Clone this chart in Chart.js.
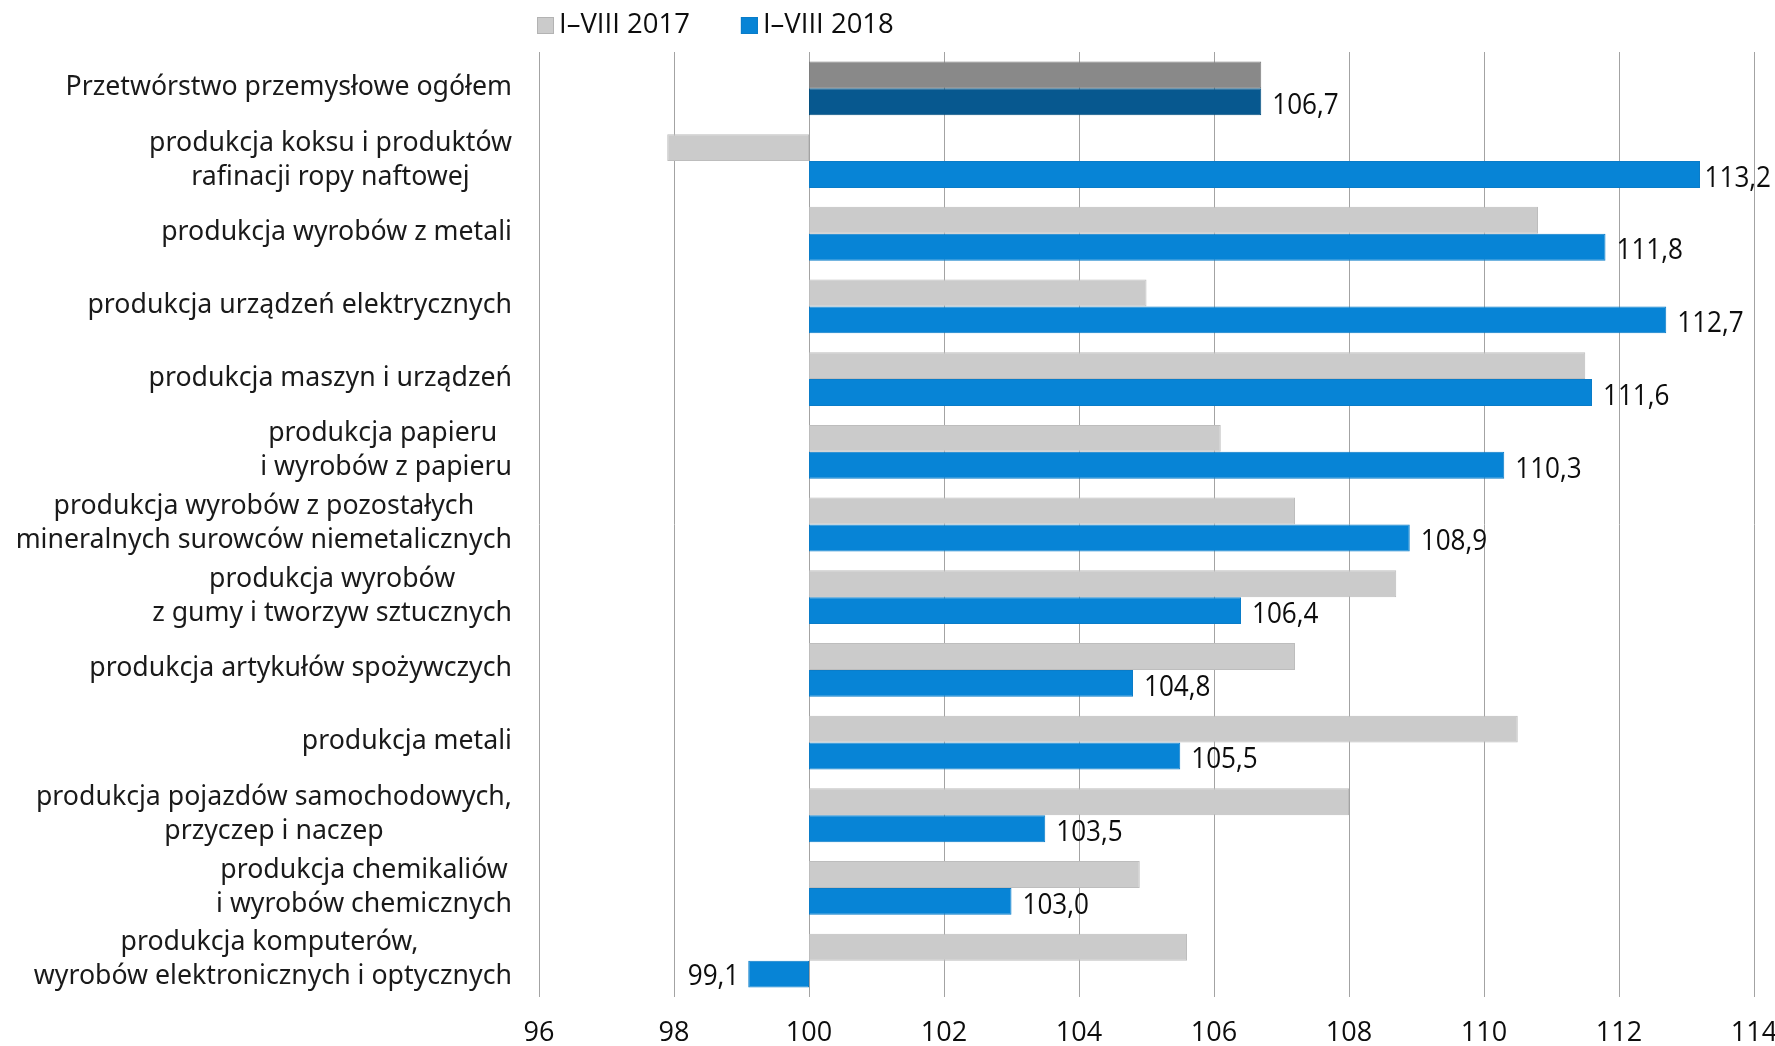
<!DOCTYPE html>
<html>
<head>
<meta charset="utf-8">
<script src="https://cdn.jsdelivr.net/npm/chart.js@4/dist/chart.umd.min.js"></script>
<style>
  html, body { margin: 0; padding: 0; background: #ffffff; }
  #wrap { width: 1775px; height: 1046px; position: relative; }
</style>
</head>
<body>
<div id="wrap"><canvas id="chart" width="1775" height="1046"></canvas></div>
<script>
// Categories (each entry = lines of the axis label)
const categories = [
  ['Przetwórstwo przemysłowe ogółem'],
  ['produkcja koksu i produktów', 'rafinacji ropy naftowej'],
  ['produkcja wyrobów z metali'],
  ['produkcja urządzeń elektrycznych'],
  ['produkcja maszyn i urządzeń'],
  ['produkcja papieru ', 'i wyrobów z papieru'],
  ['produkcja wyrobów z pozostałych', 'mineralnych surowców niemetalicznych'],
  ['produkcja wyrobów', 'z gumy i tworzyw sztucznych'],
  ['produkcja artykułów spożywczych'],
  ['produkcja metali'],
  ['produkcja pojazdów samochodowych,', 'przyczep i naczep'],
  ['produkcja chemikaliów', 'i wyrobów chemicznych'],
  ['produkcja komputerów, ', 'wyrobów elektronicznych i optycznych']
];

const seriesNames = ['I–VIII 2017', 'I–VIII 2018'];

// Index values (previous year = 100)
const values2017 = [106.7, 97.9, 110.8, 105.0, 111.5, 106.1, 107.2, 108.7, 107.2, 110.5, 108.0, 104.9, 105.6];
const values2018 = [106.7, 113.2, 111.8, 112.7, 111.6, 110.3, 108.9, 106.4, 104.8, 105.5, 103.5, 103.0, 99.1];

const baseline = 100;
const xTicks = [96, 98, 100, 102, 104, 106, 108, 110, 112, 114];

const LABEL_FONT = '"Noto Sans", sans-serif';
const NUM_FONT = '"Open Sans", sans-serif';

const colors = {
  gray: '#cbcbcb', grayBorder: '#bdbdbd',
  grayDark: '#898989', grayDarkBorder: '#7e7e7e',
  blue: '#0784d6', blueBorder: '#0a7cc8',
  blueDark: '#07588f', blueDarkBorder: '#06507f'
};

// Floating bars anchored at the baseline
const toRange = arr => arr.map(v => [baseline, v]);

// Category labels: block right-aligned to the axis, lines centred within the block
const categoryLabelPlugin = {
  id: 'categoryLabels',
  afterDraw(chart) {
    const ctx = chart.ctx;
    const yScale = chart.scales.y;
    const right = chart.chartArea.left - 27;
    const lineH = 34;
    ctx.save();
    ctx.font = '26.7px ' + LABEL_FONT;
    ctx.fillStyle = '#1a1a1a';
    ctx.textAlign = 'center';
    ctx.textBaseline = 'middle';
    categories.forEach((lines, i) => {
      const yc = yScale.getPixelForValue(i);
      const w = Math.max(...lines.map(l => ctx.measureText(l).width));
      const cx = right - w / 2;
      const y0 = yc - (lines.length - 1) * lineH / 2 - 1;
      lines.forEach((l, k) => ctx.fillText(l, cx, y0 + k * lineH));
    });
    ctx.restore();
  }
};

// Value labels for the 2018 series (slightly condensed numerals),
// kept inside the canvas when a bar reaches the right edge
const valueLabelPlugin = {
  id: 'valueLabels',
  afterDatasetsDraw(chart) {
    const ctx = chart.ctx;
    const xScale = chart.scales.x;
    const meta = chart.getDatasetMeta(1);
    const squeeze = 0.9;
    meta.data.forEach((bar, i) => {
      const v = values2018[i];
      const px = xScale.getPixelForValue(v);
      const txt = v.toFixed(1).replace('.', ',');
      ctx.save();
      ctx.font = '29px ' + NUM_FONT;
      ctx.fillStyle = '#0d0d0d';
      ctx.textBaseline = 'middle';
      const w = ctx.measureText(txt).width * squeeze;
      if (v >= baseline) {
        const x = Math.min(px + 11, chart.width - w - 4);
        ctx.translate(x, bar.y + 4);
        ctx.textAlign = 'left';
      } else {
        ctx.translate(px - 9, bar.y + 3);
        ctx.textAlign = 'right';
      }
      ctx.scale(squeeze, 1);
      ctx.fillText(txt, 0, 0);
      ctx.restore();
    });
  }
};

// Legend drawn from the left edge of the plot area
const legendPlugin = {
  id: 'topLegend',
  afterDraw(chart) {
    const ctx = chart.ctx;
    const fills = [[colors.gray, '#b3b3b3'], [colors.blue, colors.blueBorder]];
    let x = chart.chartArea.left - 2;
    const yc = 25;
    ctx.save();
    ctx.font = '27.5px ' + NUM_FONT;
    ctx.textBaseline = 'middle';
    ctx.textAlign = 'left';
    seriesNames.forEach((name, i) => {
      ctx.fillStyle = fills[i][0];
      ctx.fillRect(x, yc - 8, 17, 17);
      ctx.strokeStyle = fills[i][1];
      ctx.lineWidth = 1;
      ctx.strokeRect(x + 0.5, yc - 7.5, 16, 16);
      ctx.fillStyle = '#0d0d0d';
      ctx.fillText(name, x + 22, yc);
      x += 22 + ctx.measureText(name).width + 51;
    });
    ctx.restore();
  }
};

new Chart(document.getElementById('chart'), {
  type: 'bar',
  data: {
    labels: categories,
    datasets: [
      {
        label: seriesNames[0],
        data: toRange(values2017),
        backgroundColor: c => c.dataIndex === 0 ? colors.grayDark : colors.gray,
        borderColor: c => c.dataIndex === 0 ? colors.grayDarkBorder : colors.grayBorder,
        borderWidth: 1,
        borderSkipped: false,
        categoryPercentage: 0.74,
        barPercentage: 1.0
      },
      {
        label: seriesNames[1],
        data: toRange(values2018),
        backgroundColor: c => c.dataIndex === 0 ? colors.blueDark : colors.blue,
        borderColor: c => c.dataIndex === 0 ? colors.blueDarkBorder : colors.blueBorder,
        borderWidth: 1,
        borderSkipped: false,
        categoryPercentage: 0.74,
        barPercentage: 1.0
      }
    ]
  },
  options: {
    indexAxis: 'y',
    responsive: false,
    animation: false,
    layout: { padding: { top: 52, right: 0, bottom: 0, left: 0 } },
    plugins: {
      legend: { display: false },
      tooltip: { enabled: false }
    },
    scales: {
      x: {
        type: 'linear',
        min: xTicks[0],
        max: xTicks[xTicks.length - 1],
        afterBuildTicks: s => { s.ticks = xTicks.map(v => ({ value: v })); },
        afterFit: s => { s.height = 49; s.paddingRight = 21; s.paddingLeft = 0; },
        grid: { color: '#a3a3a3', lineWidth: 1, drawTicks: false },
        border: { display: false },
        ticks: {
          padding: 20,
          color: '#0d0d0d',
          font: { family: NUM_FONT, size: 27 },
          callback: v => String(v)
        }
      },
      y: {
        type: 'category',
        afterFit: s => { s.width = 539; },
        grid: { display: false },
        border: { display: false },
        ticks: { display: false }
      }
    }
  },
  plugins: [categoryLabelPlugin, valueLabelPlugin, legendPlugin]
});
</script>
</body>
</html>
